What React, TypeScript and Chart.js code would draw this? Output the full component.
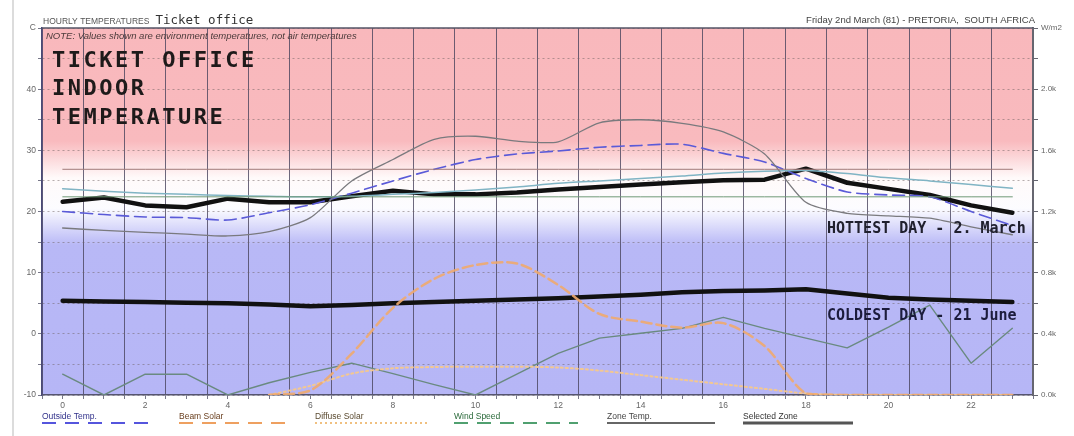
import React, { useEffect, useRef } from 'react';
import { Chart, registerables } from 'chart.js';

Chart.register(...registerables);

// ---------------- data ----------------
const HOURS = [0, 1, 2, 3, 4, 5, 6, 7, 8, 9, 10, 11, 12, 13, 14, 15, 16, 17, 18, 19, 20, 21, 22, 23];

const OUTSIDE_TEMP = [20.0, 19.5, 19.1, 19.0, 18.6, 19.8, 21.1, 23.0, 25.0, 26.9, 28.5, 29.4, 29.9, 30.5, 30.8, 31.0, 29.5, 28.1, 25.4, 23.2, 22.7, 22.4, 20.0, 17.7];
const BEAM_SOLAR = [null, null, null, null, null, 0, 30, 270, 570, 760, 850, 860, 720, 530, 480, 440, 470, 320, 10, 0, 0, 0, 0, 0];
const DIFFUSE_SOLAR = [null, null, null, null, null, 0, 60, 140, 175, 183, 185, 185, 180, 160, 130, 100, 70, 40, 10, 0, 0, 0, 0, 0];
const WIND_SPEED = [-6.6, -10, -6.6, -6.6, -10, -8.0, -6.3, -4.8, -6.5, -8.3, -10, -6.6, -3.2, -0.7, 0.1, 0.9, 2.7, 0.9, -0.7, -2.3, 1.1, 4.7, -4.8, 0.9];
const ZONE_TEMP_WEST = [17.3, 16.9, 16.6, 16.3, 16.0, 16.7, 19.0, 25.0, 28.5, 31.8, 32.3, 31.5, 31.4, 34.5, 35.0, 34.4, 33.0, 29.4, 21.5, 19.7, 19.3, 18.9, 17.5, 16.2];
const ZONE_TEMP_HALL = [23.7, 23.3, 23.0, 22.8, 22.6, 22.5, 22.4, 22.5, 22.8, 23.1, 23.5, 24.0, 24.6, 25.0, 25.4, 25.8, 26.3, 26.6, 26.7, 26.2, 25.5, 25.0, 24.4, 23.8];
const COMFORT_UPPER = [26.9, 26.9, 26.9, 26.9, 26.9, 26.9, 26.9, 26.9, 26.9, 26.9, 26.9, 26.9, 26.9, 26.9, 26.9, 26.9, 26.9, 26.9, 26.9, 26.9, 26.9, 26.9, 26.9, 26.9];
const COMFORT_LOWER = [22.4, 22.4, 22.4, 22.4, 22.4, 22.4, 22.4, 22.4, 22.4, 22.4, 22.4, 22.4, 22.4, 22.4, 22.4, 22.4, 22.4, 22.4, 22.4, 22.4, 22.4, 22.4, 22.4, 22.4];
const HOTTEST_DAY = [21.6, 22.3, 21.0, 20.7, 22.1, 21.5, 21.5, 22.5, 23.4, 22.8, 22.8, 23.1, 23.6, 24.0, 24.4, 24.8, 25.1, 25.2, 27.0, 24.7, 23.7, 22.7, 21.0, 19.8];
const COLDEST_DAY = [5.4, 5.3, 5.2, 5.1, 5.0, 4.8, 4.5, 4.7, 5.0, 5.2, 5.4, 5.6, 5.8, 6.1, 6.4, 6.8, 7.0, 7.1, 7.3, 6.6, 5.9, 5.6, 5.4, 5.2];

const X_TICKS = [-0.5, 0, 0.5, 1, 1.5, 2, 2.5, 3, 3.5, 4, 4.5, 5, 5.5, 6, 6.5, 7, 7.5, 8, 8.5, 9, 9.5, 10, 10.5, 11, 11.5, 12, 12.5, 13, 13.5, 14, 14.5, 15, 15.5, 16, 16.5, 17, 17.5, 18, 18.5, 19, 19.5, 20, 20.5, 21, 21.5, 22, 22.5, 23, 23.5];
const X_LABELED = [0, 2, 4, 6, 8, 10, 12, 14, 16, 18, 20, 22];
const TEMP_LABELED = [-10, 0, 10, 20, 30, 40];
const SOLAR_LABELED = [0, 400, 800, 1200, 1600, 2000];

const HEADER_LEFT = 'HOURLY TEMPERATURES';
const HEADER_ZONE = 'Ticket office';
const HEADER_RIGHT = 'Friday 2nd March (81) - PRETORIA,  SOUTH AFRICA';
const NOTE = 'NOTE: Values shown are environment temperatures, not air temperatures';
const TITLE_LINES = ['TICKET OFFICE', 'INDOOR', 'TEMPERATURE'];
const HOT_LABEL = 'HOTTEST DAY - 2. March';
const COLD_LABEL = 'COLDEST DAY - 21 June';
const LEGEND_ITEMS = ['Outside Temp.', 'Beam Solar', 'Diffuse Solar', 'Wind Speed', 'Zone Temp.', 'Selected Zone'];

const pts = (arr: (number | null)[]) => HOURS.map((h, i) => ({ x: h, y: arr[i] }));

export default function App() {
  const ref = useRef<HTMLCanvasElement>(null);

  useEffect(() => {
    const canvas = ref.current!;

    const bgPlugin = {
      id: 'bgPlugin',
      beforeDraw(chart: any) {
        const { ctx, chartArea } = chart;
        const ys = chart.scales.y;
        ctx.save();
        ctx.fillStyle = '#ffffff';
        ctx.fillRect(0, 0, chart.width, chart.height);
        ctx.fillStyle = '#dcdcdc';
        ctx.fillRect(12, 0, 2, chart.height);
        const top = chartArea.top;
        const bot = chartArea.bottom;
        const h = bot - top;
        const g = ctx.createLinearGradient(0, top, 0, bot);
        const stop = (v: number) => Math.min(1, Math.max(0, (ys.getPixelForValue(v) - top) / h));
        g.addColorStop(0, 'rgb(249,184,188)');
        g.addColorStop(stop(31.5), 'rgb(249,186,190)');
        g.addColorStop(stop(25.5), 'rgb(255,250,250)');
        g.addColorStop(stop(20.5), 'rgb(252,252,255)');
        g.addColorStop(stop(14.5), 'rgb(184,184,246)');
        g.addColorStop(1, 'rgb(182,182,246)');
        ctx.fillStyle = g;
        ctx.fillRect(chartArea.left, top, chartArea.right - chartArea.left, h);
        ctx.restore();
      },
      afterDraw(chart: any) {
        const { ctx, chartArea } = chart;
        ctx.save();
        // frame
        ctx.strokeStyle = '#555566';
        ctx.lineWidth = 1.5;
        ctx.beginPath();
        ctx.moveTo(chartArea.left, chartArea.top);
        ctx.lineTo(chartArea.right, chartArea.top);
        ctx.stroke();
        ctx.strokeStyle = '#666670';
        ctx.lineWidth = 2;
        ctx.beginPath();
        ctx.moveTo(chartArea.right, chartArea.top);
        ctx.lineTo(chartArea.right, chartArea.bottom);
        ctx.stroke();

        // header
        ctx.textBaseline = 'alphabetic';
        ctx.fillStyle = '#555555';
        ctx.font = '8.5px "Liberation Sans"';
        ctx.textAlign = 'left';
        ctx.fillText(HEADER_LEFT, 43, 24);
        const w1 = ctx.measureText(HEADER_LEFT).width;
        ctx.font = '12.5px "DejaVu Sans Mono"';
        ctx.fillStyle = '#333333';
        ctx.fillText(HEADER_ZONE, 43 + w1 + 6, 24);
        ctx.font = '9.5px "Liberation Sans"';
        ctx.fillStyle = '#444444';
        ctx.textAlign = 'right';
        ctx.fillText(HEADER_RIGHT, 1035, 23);

        // note
        ctx.textAlign = 'left';
        ctx.font = 'italic 9.5px "Liberation Sans"';
        ctx.fillStyle = '#4a3a3a';
        ctx.fillText(NOTE, 46, 39);

        // big title
        ctx.font = 'bold 22px "DejaVu Sans Mono"';
        ctx.fillStyle = '#1e1a1a';
        (ctx as any).letterSpacing = '2.5px';
        const baselines = [67, 95, 124];
        TITLE_LINES.forEach((t, i) => ctx.fillText(t, 52, baselines[i]));
        (ctx as any).letterSpacing = '0px';

        // day labels
        ctx.font = 'bold 15px "DejaVu Sans Mono"';
        ctx.fillStyle = '#20202e';
        ctx.fillText(HOT_LABEL, 827, 233);
        ctx.fillStyle = '#1c1c3c';
        ctx.fillText(COLD_LABEL, 827, 320);

        // legend
        const lx = [42, 179, 315, 454, 607, 743];
        const lend = [150, 287, 427, 578, 715, 853];
        const textCol = ['#30308a', '#6a4020', '#5a4a30', '#2a6a3a', '#444444', '#333333'];
        const lineCol = ['#5555dd', '#eea060', '#f0c080', '#50a070', '#666666', '#555555'];
        const dash = [[14, 9], [14, 9], [2, 3], [14, 9], [], []];
        const lw = [1.8, 1.8, 1.8, 1.8, 2, 3];
        ctx.font = '8.5px "Liberation Sans"';
        LEGEND_ITEMS.forEach((t, i) => {
          ctx.fillStyle = textCol[i];
          ctx.fillText(t, lx[i], 419);
          ctx.strokeStyle = lineCol[i];
          ctx.lineWidth = lw[i];
          ctx.setLineDash(dash[i]);
          ctx.beginPath();
          ctx.moveTo(lx[i], 423);
          ctx.lineTo(lend[i], 423);
          ctx.stroke();
        });
        ctx.setLineDash([]);
        ctx.restore();
      },
    };

    const tickFont = { family: 'Liberation Sans', size: 8.5 };

    const chart = new Chart(canvas, {
      type: 'line',
      data: {
        datasets: [
          { label: 'Beam Solar', data: pts(BEAM_SOLAR), yAxisID: 'y2', borderColor: 'rgba(240,170,110,0.9)', borderWidth: 2.5, borderDash: [10, 5], tension: 0.3 },
          { label: 'Diffuse Solar', data: pts(DIFFUSE_SOLAR), yAxisID: 'y2', borderColor: 'rgba(245,200,140,0.95)', borderWidth: 2, borderDash: [2, 3], tension: 0.3 },
          { label: 'Wind Speed', data: pts(WIND_SPEED), yAxisID: 'y', borderColor: '#6a8a80', borderWidth: 1.4, tension: 0 },
          { label: 'Comfort upper', data: pts(COMFORT_UPPER), yAxisID: 'y', borderColor: '#a07a78', borderWidth: 1, tension: 0 },
          { label: 'Comfort lower', data: pts(COMFORT_LOWER), yAxisID: 'y', borderColor: '#6f9a76', borderWidth: 1, tension: 0 },
          { label: 'Zone Temp. West', data: pts(ZONE_TEMP_WEST), yAxisID: 'y', borderColor: '#7a7a7e', borderWidth: 1.3, tension: 0.25 },
          { label: 'Zone Temp. Hall', data: pts(ZONE_TEMP_HALL), yAxisID: 'y', borderColor: '#80b4c4', borderWidth: 1.5, tension: 0.25 },
          { label: 'Outside Temp.', data: pts(OUTSIDE_TEMP), yAxisID: 'y', borderColor: '#5a5ad8', borderWidth: 1.6, borderDash: [12, 6], tension: 0.25 },
          { label: 'Hottest Day', data: pts(HOTTEST_DAY), yAxisID: 'y', borderColor: '#111111', borderWidth: 4.5, tension: 0 },
          { label: 'Coldest Day', data: pts(COLDEST_DAY), yAxisID: 'y', borderColor: '#111111', borderWidth: 4.5, tension: 0 },
        ],
      },
      options: {
        responsive: false,
        animation: false,
        devicePixelRatio: 1,
        layout: { padding: { left: 0, right: 0, top: 28, bottom: 0 } },
        elements: { point: { radius: 0 }, line: { borderCapStyle: 'round', borderJoinStyle: 'round' } },
        plugins: { legend: { display: false }, tooltip: { enabled: false } },
        scales: {
          x: {
            type: 'linear',
            min: -0.5,
            max: 23.5,
            afterBuildTicks: (s: any) => {
              s.ticks = X_TICKS.map((v) => ({ value: v }));
            },
            afterFit: (s: any) => {
              s.height = 41;
            },
            ticks: {
              autoSkip: false,
              maxRotation: 0,
              padding: 2,
              font: tickFont,
              color: '#666666',
              callback: (v: any) => (X_LABELED.includes(Number(v)) ? String(v) : ''),
            },
            grid: {
              color: (c: any) => {
                const v = c.tick ? c.tick.value : 0;
                return Math.abs(v - Math.round(v)) > 0.1 ? 'rgba(72,68,92,0.8)' : 'rgba(0,0,0,0)';
              },
              tickColor: '#777788',
              tickLength: 4,
              lineWidth: 1,
            },
            border: { display: true, color: '#555570', width: 1.5 },
          },
          y: {
            position: 'left',
            min: -10,
            max: 50,
            afterFit: (s: any) => {
              s.width = 42;
            },
            ticks: {
              stepSize: 5,
              padding: 2,
              font: tickFont,
              color: '#666666',
              callback: (v: any) => (Number(v) === 50 ? 'C' : TEMP_LABELED.includes(Number(v)) ? String(v) : ''),
            },
            grid: { color: 'rgba(110,95,95,0.5)', tickColor: '#777788', tickLength: 4, lineWidth: 1 },
            border: { display: true, color: '#4a4a78', width: 1.5, dash: [2, 3] },
          },
          y2: {
            position: 'right',
            min: 0,
            max: 2400,
            afterFit: (s: any) => {
              s.width = 41;
            },
            ticks: {
              stepSize: 200,
              padding: 3,
              font: { family: 'Liberation Sans', size: 8 },
              color: '#666666',
              callback: (v: any) =>
                Number(v) === 2400 ? 'W/m2' : SOLAR_LABELED.includes(Number(v)) ? (Number(v) / 1000).toFixed(1) + 'k' : '',
            },
            grid: { drawOnChartArea: false, tickColor: '#666670', tickLength: 5 },
            border: { display: true, color: '#666670', width: 2 },
          },
        },
      } as any,
      plugins: [bgPlugin],
    });

    return () => chart.destroy();
  }, []);

  return (
    <div style={{ position: 'fixed', left: 0, top: 0, width: 1074, height: 436, background: '#ffffff' }}>
      <canvas ref={ref} width={1074} height={436} style={{ width: 1074, height: 436, display: 'block' }} />
    </div>
  );
}
